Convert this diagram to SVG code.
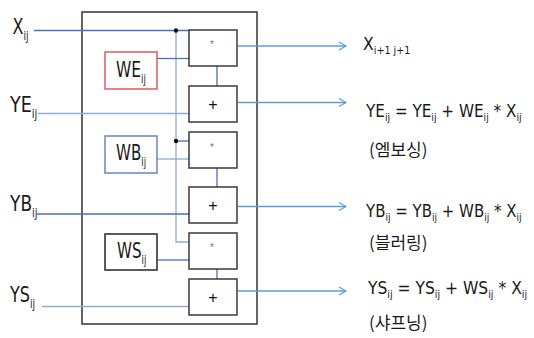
<svg xmlns="http://www.w3.org/2000/svg" width="534" height="338" viewBox="0 0 534 338">
<style>
  .lat { font-family: "DejaVu Sans Condensed", "Liberation Sans Narrow", "Liberation Sans", sans-serif; fill: #1a1a1a; }
  .big { font-size: 21px; }
  .eq { font-size: 18px; }
  .sub { font-size: 12px; }
  .sub2 { font-size: 11px; }
  .kr { font-family: "Noto Sans CJK KR", sans-serif; font-size: 17px; fill: #1a1a1a; }
  .op { fill: #fff; stroke: #3a3a3a; stroke-width: 1.5; }
  .ln { stroke: #4a6fbf; stroke-width: 1.3; fill: none; }
  .lnl { stroke: #8eaadb; stroke-width: 1.3; fill: none; }
  .out { stroke: #5b9bd5; stroke-width: 1.3; fill: none; marker-end: url(#arr); }
  .star { font-family: "Liberation Sans", sans-serif; font-size: 10px; fill: #777; text-anchor: middle; }
  .plus { font-family: "Liberation Sans", sans-serif; font-size: 16px; fill: #111; text-anchor: middle; }
</style>
<defs>
  <marker id="arr" viewBox="0 0 10 10" refX="9" refY="5" markerWidth="10" markerHeight="10" markerUnits="userSpaceOnUse" orient="auto">
    <path d="M2,1 L9,5 L2,9" fill="none" stroke="#5b9bd5" stroke-width="1.2"/>
  </marker>
</defs>
<rect width="534" height="338" fill="#fff"/>

<g id="outer-box">
  <rect x="82" y="12" width="175" height="312" fill="none" stroke="#333" stroke-width="1.5"/>
</g>

<g id="connectors">
  <line class="ln" x1="34" y1="30.5" x2="189" y2="30.5"/>
  <polyline class="lnl" points="176,30.5 176,242 189,242"/>
  <line class="ln" x1="176" y1="141" x2="189" y2="141"/>
  <line class="ln" x1="157" y1="58.5" x2="189" y2="58.5"/>
  <line class="ln" x1="217" y1="66" x2="217" y2="86"/>
  <line class="lnl" x1="38" y1="113.5" x2="189" y2="113.5"/>
  <line class="lnl" x1="157" y1="159" x2="189" y2="159"/>
  <line class="ln" x1="217" y1="168" x2="217" y2="187"/>
  <line class="ln" x1="37" y1="214" x2="189" y2="214"/>
  <line class="ln" x1="157" y1="260" x2="189" y2="260"/>
  <line class="ln" x1="217" y1="269" x2="217" y2="279"/>
  <line class="lnl" x1="42" y1="306.5" x2="189" y2="306.5"/>
  <circle cx="176" cy="30.5" r="2.2" fill="#111"/>
  <circle cx="176" cy="141" r="2.2" fill="#111"/>
  <line class="out" x1="238" y1="46" x2="346" y2="46"/>
  <line class="out" x1="238" y1="102.5" x2="346" y2="102.5"/>
  <line class="out" x1="238" y1="206.5" x2="346" y2="206.5"/>
  <line class="out" x1="238" y1="291" x2="346" y2="291"/>
</g>

<g id="op-mul-1"><rect class="op" x="189" y="30" width="48" height="36"/><text class="star" x="212" y="48">*</text></g>
<g id="op-add-1"><rect class="op" x="189" y="86" width="48" height="36"/><text class="plus" x="213" y="109.5">+</text></g>
<g id="op-mul-2"><rect class="op" x="189" y="132" width="48" height="36"/><text class="star" x="212" y="151">*</text></g>
<g id="op-add-2"><rect class="op" x="189" y="187" width="48" height="36"/><text class="plus" x="213" y="210.5">+</text></g>
<g id="op-mul-3"><rect class="op" x="189" y="233" width="48" height="36"/><text class="star" x="212" y="251">*</text></g>
<g id="op-add-3"><rect class="op" x="189" y="279" width="48" height="36"/><text class="plus" x="213" y="302.5">+</text></g>

<g id="WE">
  <rect x="105" y="52" width="52" height="37" fill="#fff" stroke="#e06464" stroke-width="1.6"/>
  <text class="lat big" transform="translate(116,77) scale(0.82,1)">WE<tspan class="sub" dy="6">ij</tspan></text>
</g>
<g id="WB">
  <rect x="105" y="136" width="52" height="37" fill="#fff" stroke="#6f8fc8" stroke-width="1.6"/>
  <text class="lat big" transform="translate(116,159.5) scale(0.8,1)">WB<tspan class="sub" dy="6">ij</tspan></text>
</g>
<g id="WS">
  <rect x="105" y="234" width="52" height="36" fill="#fff" stroke="#333" stroke-width="1.6"/>
  <text class="lat big" transform="translate(117,257.5) scale(0.8,1)">WS<tspan class="sub" dy="6">ij</tspan></text>
</g>

<g id="in-X"><text class="lat big" transform="translate(12.5,34) scale(0.85,1)">X<tspan class="sub" dy="6">ij</tspan></text></g>
<g id="in-YE"><text class="lat big" transform="translate(10,111.5) scale(0.93,1)">YE<tspan class="sub" dy="6">ij</tspan></text></g>
<g id="in-YB"><text class="lat big" transform="translate(10,210.5) scale(0.9,1)">YB<tspan class="sub" dy="6">ij</tspan></text></g>
<g id="in-YS"><text class="lat big" transform="translate(10,301.5) scale(0.85,1)">YS<tspan class="sub" dy="6">ij</tspan></text></g>

<g id="out-X">
  <text class="lat eq" transform="translate(363,50) scale(0.97,1)">X<tspan class="sub2" dy="4">i+1 j+1</tspan></text>
</g>
<g id="out-YE">
  <text class="lat eq" transform="translate(366,117) scale(0.94,1)">YE<tspan class="sub2" dy="4">ij</tspan><tspan dy="-4"> = YE</tspan><tspan class="sub2" dy="4">ij</tspan><tspan dy="-4"> + WE</tspan><tspan class="sub2" dy="4">ij</tspan><tspan dy="-4"> * X</tspan><tspan class="sub2" dy="4">ij</tspan></text>
  <text class="kr" x="369" y="156">(엠보싱)</text>
</g>
<g id="out-YB">
  <text class="lat eq" transform="translate(366,216.5) scale(0.925,1)">YB<tspan class="sub2" dy="4">ij</tspan><tspan dy="-4"> = YB</tspan><tspan class="sub2" dy="4">ij</tspan><tspan dy="-4"> + WB</tspan><tspan class="sub2" dy="4">ij</tspan><tspan dy="-4"> * X</tspan><tspan class="sub2" dy="4">ij</tspan></text>
  <text class="kr" x="369" y="249">(블러링)</text>
</g>
<g id="out-YS">
  <text class="lat eq" transform="translate(368,294) scale(0.96,1)">YS<tspan class="sub2" dy="4">ij</tspan><tspan dy="-4"> = YS</tspan><tspan class="sub2" dy="4">ij</tspan><tspan dy="-4"> + WS</tspan><tspan class="sub2" dy="4">ij</tspan><tspan dy="-4"> * X</tspan><tspan class="sub2" dy="4">ij</tspan></text>
  <text class="kr" x="369" y="329">(샤프닝)</text>
</g>
</svg>
